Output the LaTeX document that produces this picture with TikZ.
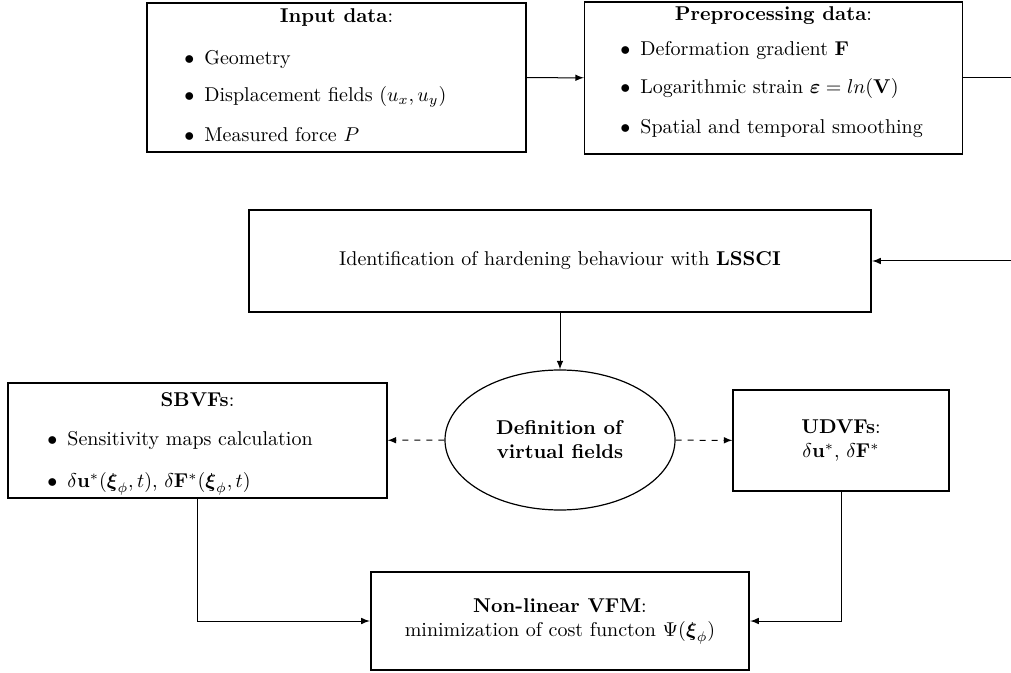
\documentclass[tikz,border=0pt]{standalone}
\usepackage{amsmath}
\usepackage{amssymb}
\usepackage{tikz}
\usetikzlibrary{shapes.geometric}

\begin{document}
\begin{tikzpicture}[x=0.5pt,y=-0.5pt,>=latex]
  \tikzset{box/.style = {shape=rectangle,draw,line width=0.6pt,inner sep=0pt}}
  \tikzset{bigbox/.style = {box,line width=1.2pt}}
  \tikzset{txt/.style = {inner sep=0pt,align=center}}
  \tikzset{item/.style = {inner sep=0pt,anchor=west}}
  \tikzset{edge/.style = {->,line width=0.5pt}}
  \useasboundingbox (0,0) rectangle (1011,673);

	% boxes
	\node[box,minimum width=189.5pt,minimum height=74.5pt] (in) at (336.5,77.5) {};
	\node[box,minimum width=189pt,minimum height=76pt] (pre) at (773.5,78) {};
	\node[bigbox,minimum width=311pt,minimum height=51pt] (id) at (560,261) {Identification of hardening behaviour with \textbf{LSSCI}};
	\node[draw,ellipse,line width=0.6pt,minimum width=115pt,minimum height=70pt,inner sep=0pt,align=center] (vf) at (560,440) {\textbf{Definition of}\\\textbf{virtual fields}};
	\node[box,minimum width=189.5pt,minimum height=57.5pt] (sb) at (197.5,440.5) {};
	\node[box,minimum width=108pt,minimum height=50.5pt,align=center] (ud) at (841,440.5) {\textbf{UDVFs}:\\$\delta\mathbf{u}^{*}$, $\delta\mathbf{F}^{*}$};
	\node[bigbox,minimum width=189pt,minimum height=49pt,align=center] (vfm) at (560,621) {\textbf{Non-linear VFM}:\\minimization of cost functon $\Psi(\boldsymbol{\xi}_{\phi})$};

	% box contents
	\node[txt] (in-t) at (336.5,18) {\textbf{Input data}:};
	\node[item] (in-1) at (184,60) {$\bullet$\hspace{5pt}Geometry};
	\node[item] (in-2) at (184,97) {$\bullet$\hspace{5pt}Displacement fields $(u_x,u_y)$};
	\node[item] (in-3) at (184,135) {$\bullet$\hspace{5pt}Measured force $P$};
	\node[txt] (pre-t) at (773.5,16) {\textbf{Preprocessing data}:};
	\node[item] (pre-1) at (620,51) {$\bullet$\hspace{5pt}Deformation gradient $\mathbf{F}$};
	\node[item] (pre-2) at (620,89) {$\bullet$\hspace{5pt}Logarithmic strain $\boldsymbol{\varepsilon}=ln(\mathbf{V})$};
	\node[item] (pre-3) at (620,129) {$\bullet$\hspace{5pt}Spatial and temporal smoothing};
	\node[txt] (sb-t) at (197.5,400) {\textbf{SBVFs}:};
	\node[item] (sb-1) at (47,440) {$\bullet$\hspace{5pt}Sensitivity maps calculation};
	\node[item] (sb-2) at (47,484) {$\bullet$\hspace{5pt}$\delta\mathbf{u}^{*}(\boldsymbol{\xi}_{\phi},t)$, $\delta\mathbf{F}^{*}(\boldsymbol{\xi}_{\phi},t)$};

	\coordinate (out) at (1040,0);

    \foreach \from/\to in {in/pre,id/vf}
    \draw[edge] (\from) -- (\to);
    \foreach \to in {sb,ud}
    \draw[edge,dashed] (vf) -- (\to);
    \draw[edge] (pre.east) -- (pre.east -| out) |- (id.east);
    \draw[edge] (sb.south) |- (vfm.west);
    \draw[edge] (ud.south) |- (vfm.east);

\end{tikzpicture}
\end{document}
